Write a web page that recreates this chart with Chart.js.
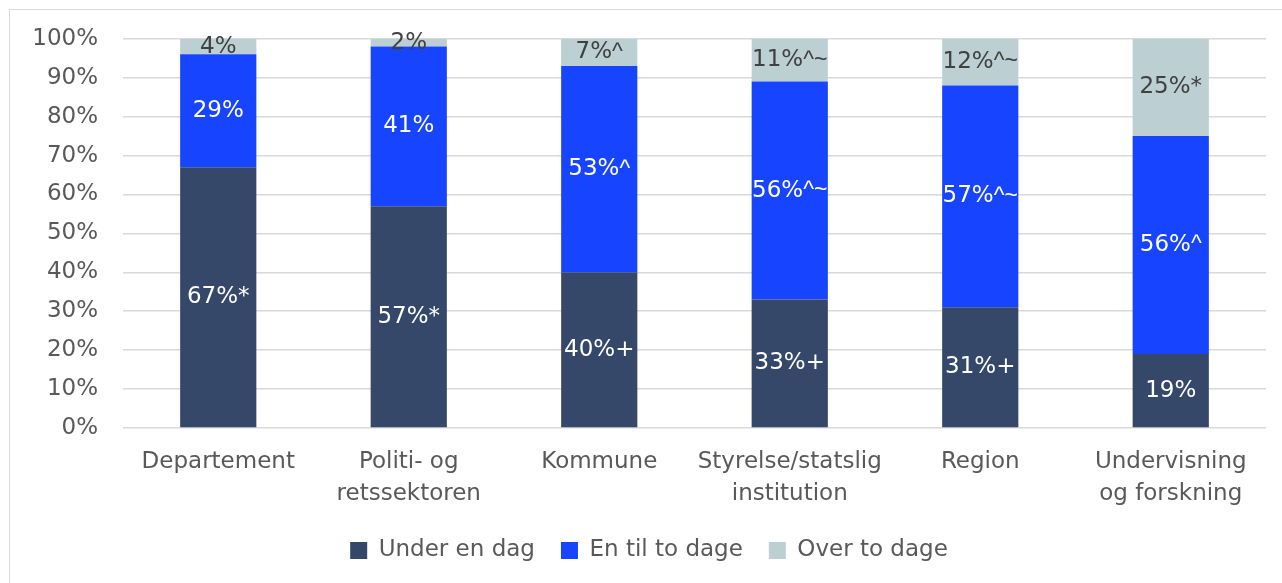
<!DOCTYPE html>
<html>
<head>
<meta charset="utf-8">
<script src="https://cdn.jsdelivr.net/npm/chart.js@4"></script>
<style>
  html, body { margin: 0; padding: 0; background: #fff; overflow: hidden; }
  #frame { position: absolute; left: 9px; top: 9px; width: 1300px; height: 600px;
           border: 1.5px solid #d9d9d9; box-sizing: border-box; }
  #wrap { position: absolute; left: 0; top: 0; width: 1282px; height: 583px; }
</style>
</head>
<body>
<div id="frame"></div>
<div id="wrap"><canvas id="chart"></canvas></div>
<script>
// ─── Data ────────────────────────────────────────────────────────────────────
const categories = [
    "Departement",
    ["Politi- og", "retssektoren"],
    "Kommune",
    ["Styrelse/statslig", "institution"],
    "Region",
    ["Undervisning", "og forskning"],
];
const seriesNames = ["Under en dag", "En til to dage", "Over to dage"];

const underEnDag  = [67, 57, 40, 33, 31, 19];
const enTilToDage = [29, 41, 53, 56, 57, 56];
const overToDage  = [4, 2, 7, 11, 12, 25];

// Labels as printed on the bars (significance marks included)
const underLabels = ["67%*", "57%*", "40%+", "33%+", "31%+", "19%"];
const enTilLabels = ["29%", "41%", "53%^", "56%^~", "57%^~", "56%^"];
const overLabels  = ["4%", "2%", "7%^", "11%^~", "12%^~", "25%*"];

const yTicks = [0, 10, 20, 30, 40, 50, 60, 70, 80, 90, 100];

const FONT = "'DejaVu Sans', sans-serif";
const MARK_FONT = "23px 'Liberation Sans', sans-serif"; // narrower ^ and ~
const TEXT = "#595959";

// Draw value labels in the middle of each segment.
// The trailing ^/~ marks get a narrower font so the labels fit the bars.
const segmentLabels = {
    id: "segmentLabels",
    afterDatasetsDraw(chart) {
        const { ctx } = chart;
        chart.data.datasets.forEach((ds, i) => {
            const meta = chart.getDatasetMeta(i);
            meta.data.forEach((bar, j) => {
                const label = ds.valueLabels[j];
                const m = label.match(/^(.*?)([\^~]*)$/);
                const main = m[1], marks = m[2];
                const y = (bar.y + bar.base) / 2;
                ctx.save();
                ctx.fillStyle = ds.labelColor;
                ctx.textAlign = "left";
                ctx.textBaseline = "middle";
                ctx.font = `23px ${FONT}`;
                const w1 = ctx.measureText(main).width;
                ctx.font = MARK_FONT;
                const w2 = marks ? ctx.measureText(marks).width : 0;
                const x0 = bar.x - (w1 + w2) / 2;
                ctx.font = `23px ${FONT}`;
                ctx.fillText(main, x0, y);
                if (marks) {
                    ctx.font = MARK_FONT;
                    ctx.fillText(marks, x0 + w1, y);
                }
                ctx.restore();
            });
        });
    },
};

new Chart(document.getElementById("chart"), {
    type: "bar",
    data: {
        labels: categories,
        datasets: [
            { label: seriesNames[0], data: underEnDag,  valueLabels: underLabels,
              backgroundColor: "#35486a", labelColor: "#ffffff" },
            { label: seriesNames[1], data: enTilToDage, valueLabels: enTilLabels,
              backgroundColor: "#1744ff", labelColor: "#ffffff" },
            { label: seriesNames[2], data: overToDage,  valueLabels: overLabels,
              backgroundColor: "#bccfd3", labelColor: "#404040" },
        ],
    },
    options: {
        responsive: true,
        maintainAspectRatio: false,
        animation: false,
        datasets: { bar: { categoryPercentage: 1, barPercentage: 0.4 } },
        layout: { padding: { left: 32, right: 16, top: 28, bottom: 11 } },
        plugins: {
            tooltip: { enabled: false },
            legend: {
                position: "bottom",
                labels: {
                    font: { family: FONT, size: 23 },
                    color: TEXT,
                    boxWidth: 17,
                    boxHeight: 17,
                    padding: 26,
                },
            },
        },
        scales: {
            x: {
                stacked: true,
                afterFit: (scale) => { scale.height = 85; },
                grid: { display: false, drawTicks: false },
                border: { display: false },
                ticks: {
                    font: { family: FONT, size: 23, lineHeight: 1.39 },
                    color: TEXT,
                    padding: 18,
                    maxRotation: 0,
                    autoSkip: false,
                },
            },
            y: {
                stacked: true,
                min: 0,
                max: 100,
                afterFit: (scale) => { scale.width = 91; },
                afterBuildTicks: (scale) => { scale.ticks = yTicks.map((v) => ({ value: v })); },
                grid: { color: "#d9d9d9", lineWidth: 1.5, drawTicks: false },
                border: { display: false },
                ticks: {
                    font: { family: FONT, size: 23 },
                    color: TEXT,
                    padding: 25,
                    callback: (v) => v + "%",
                },
            },
        },
    },
    plugins: [segmentLabels],
});
</script>
</body>
</html>
